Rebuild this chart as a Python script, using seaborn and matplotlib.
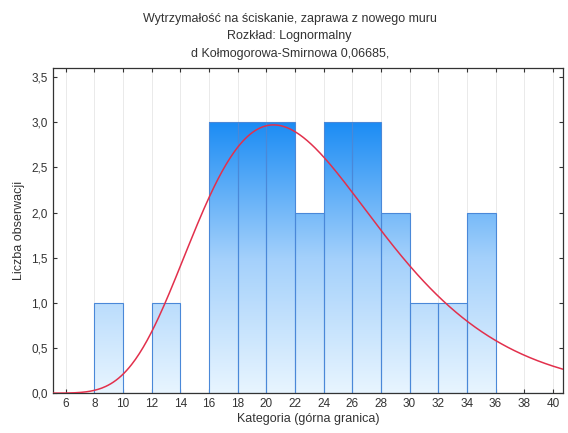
import numpy as np
import pandas as pd
import matplotlib.pyplot as plt
import seaborn as sns
from matplotlib.colors import LinearSegmentedColormap
from matplotlib.ticker import FuncFormatter

# --------------------------- DATA ---------------------------

bin_edges = [6, 8, 10, 12, 14, 16, 18, 20, 22, 24, 26, 28, 30, 32, 34, 36, 38, 40]
counts = [0, 1, 0, 1, 0, 3, 3, 3, 2, 3, 3, 2, 1, 1, 2, 0, 0]
x_ticks = [6, 8, 10, 12, 14, 16, 18, 20, 22, 24, 26, 28, 30, 32, 34, 36, 38, 40]
y_ticks = [0.0, 0.5, 1.0, 1.5, 2.0, 2.5, 3.0, 3.5]

# fitted lognormal (parameters)
ln_mu = 3.118
ln_sigma = 0.312
bin_width = 2
n_obs = sum(counts)

title = ("Wytrzymałość na ściskanie, zaprawa z nowego muru\n"
         "Rozkład: Lognormalny\n"
         "d Kołmogorowa-Smirnowa 0,06685,")

# --------------------------- PLOT ---------------------------

sns.set_theme(style="ticks")
plt.rcParams['font.family'] = ['Liberation Sans', 'DejaVu Sans']

df = pd.DataFrame({
    "centre": [(a + b) / 2 for a, b in zip(bin_edges[:-1], bin_edges[1:])],
    "count": counts,
})

fig = plt.figure(figsize=(5.68, 4.33), dpi=100)
ax = fig.add_axes([0.093, 0.092, 0.898, 0.751])

sns.histplot(data=df, x="centre", weights="count", bins=bin_edges, ax=ax,
             facecolor="none", edgecolor="#4a88d8", linewidth=0.8, alpha=1)

# vertical blue gradient clipped to each bar
cmap = LinearSegmentedColormap.from_list("bl", ["#e8f5ff", "#a3d0fb", "#1b8cf4"])
grad = np.linspace(0, 1, 256).reshape(-1, 1)
for p in ax.patches:
    if p.get_height() <= 0:
        continue
    im = ax.imshow(grad, cmap=cmap, aspect="auto", origin="lower",
                   extent=[bin_edges[0], bin_edges[-1], 0, 3.0], zorder=1,
                   interpolation="bilinear")
    im.set_clip_path(p)
    p.set_zorder(2)

xs = np.linspace(5.0, 41, 400)
pdf = np.exp(-(np.log(xs) - ln_mu) ** 2 / (2 * ln_sigma ** 2)) / (xs * ln_sigma * np.sqrt(2 * np.pi))
sns.lineplot(x=xs, y=pdf * n_obs * bin_width, ax=ax, color="#e2304c", linewidth=1.1, zorder=3)

ax.set_xlim(5.1, 40.7)
ax.set_ylim(0, 3.6)
ax.set_xticks(x_ticks)
ax.set_yticks(y_ticks)
ax.yaxis.set_major_formatter(FuncFormatter(lambda v, _: f"{v:.1f}".replace(".", ",")))
ax.tick_params(direction="in", top=True, right=True, length=3, labelsize=8.5,
               colors="#333333", width=0.8)
ax.grid(axis="x", color="#e6e6e6", linewidth=0.6)
ax.set_axisbelow(True)
for s in ax.spines.values():
    s.set_color("#333333")
    s.set_linewidth(0.9)

ax.set_xlabel("Kategoria (górna granica)", fontsize=9, color="#333333", labelpad=2)
ax.set_ylabel("Liczba obserwacji", fontsize=9, color="#333333", labelpad=5)
fig.text(0.51, 0.97, title, ha="center", va="top", fontsize=9,
         color="#333333", linespacing=1.6)

plt.savefig("out.png", dpi=100)
